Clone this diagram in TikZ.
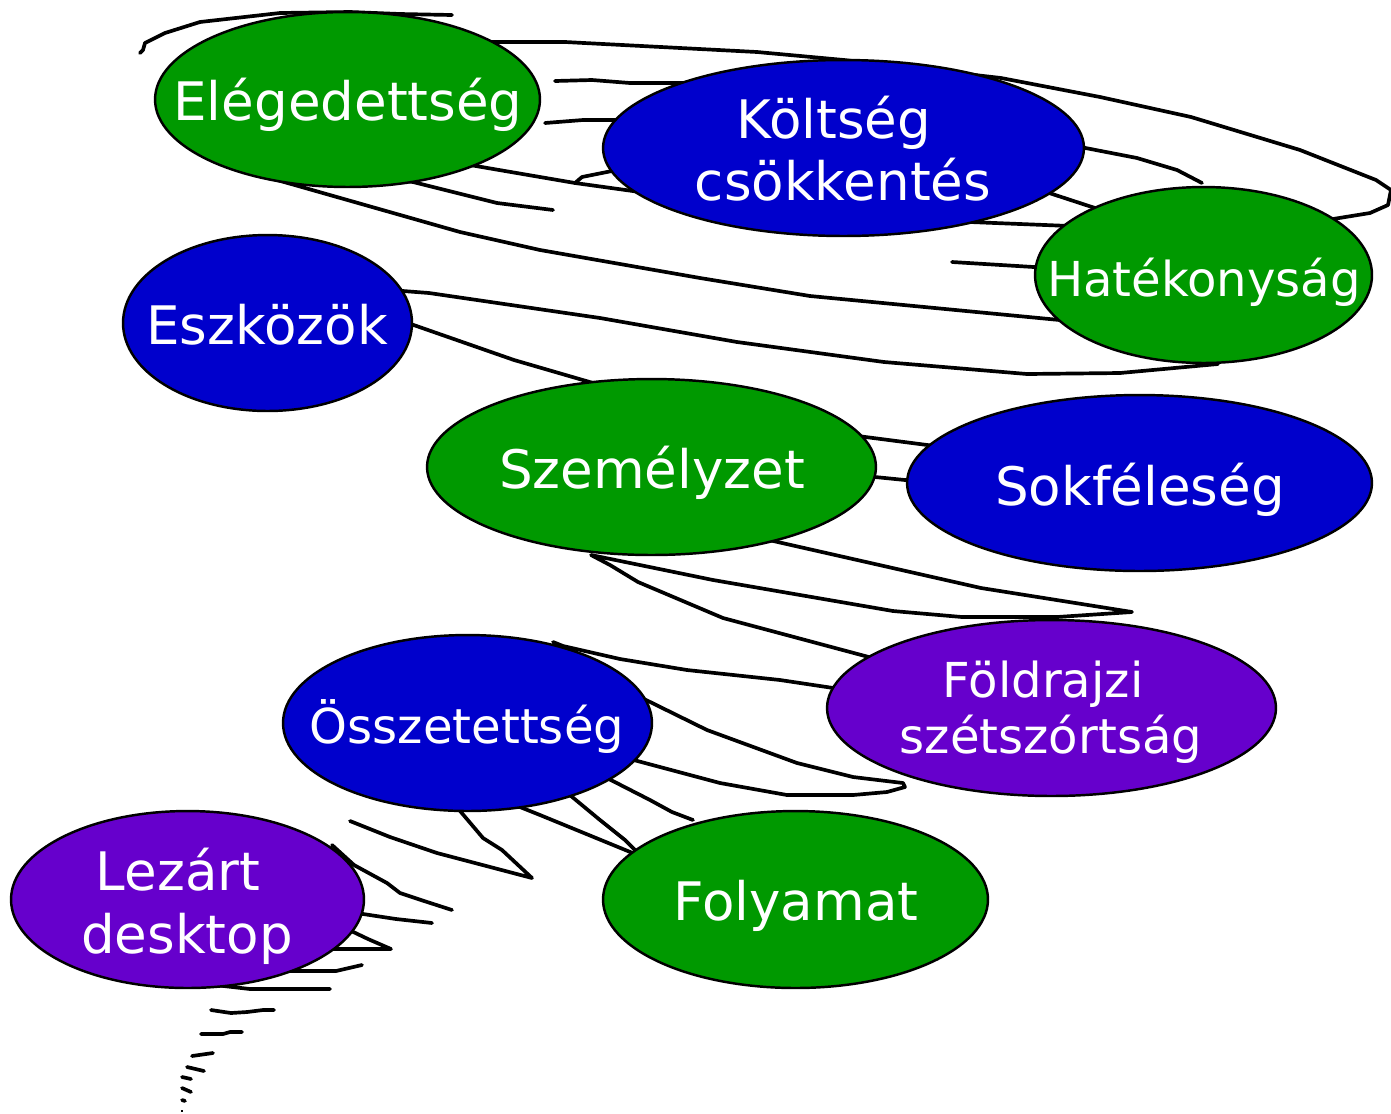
\documentclass[tikz,border=0pt]{standalone}
\usepackage{fontspec}
\setmainfont{DejaVu Sans}
\usetikzlibrary{shapes.geometric}
\definecolor{gr}{HTML}{009900}
\definecolor{bl}{HTML}{0000CC}
\definecolor{pu}{HTML}{6600CC}
\begin{document}
\begin{tikzpicture}[x=0.02cm,y=-0.02cm,
  scrib/.style={line width=2.1pt, line join=round, line cap=round},
  blob/.style={ellipse, draw=black, line width=1.4pt, inner sep=0pt},
  lbl/.style={text=white, anchor=base, inner sep=0pt, font=\fontsize{30.2}{36}\selectfont},
  lbls/.style={lbl, font=\fontsize{27.4}{33}\selectfont}]
\useasboundingbox (0,0) rectangle (1391,1113);
% ---- scribbled lines (behind the ellipses)
\draw[scrib] (452,15) -- (400,14) -- (350,12) -- (280,13) -- (200,22) -- (165,33) -- (145,43) -- (143,50) -- (140,53);
\draw[scrib] (480,42) -- (565,42) -- (757,52) -- (844,60) -- (1001,78) -- (1100,97) -- (1191,117) -- (1300,150) -- (1376,180) -- (1391,190) -- (1388,205) -- (1370,213) -- (1333,219) -- (1310,222);
\draw[scrib] (555,81) -- (592,80) -- (630,83) -- (700,83);
\draw[scrib] (545,123) -- (583,120) -- (630,120);
\draw[scrib] (470,165) -- (575,183) -- (640,192) -- (800,212) -- (970,222) -- (1070,226);
\draw[scrib] (575,183) -- (582,177) -- (612,171) -- (640,168);
\draw[scrib] (400,180) -- (413,182) -- (497,203) -- (553,210);
\draw[scrib] (270,178) -- (460,232) -- (540,250) -- (700,278) -- (810,296) -- (1070,321);
\draw[scrib] (952,262) -- (1050,268);
\draw[scrib] (1070,145) -- (1137,158) -- (1177,170) -- (1202,183);
\draw[scrib] (1040,190) -- (1095,208) -- (1110,214);
\draw[scrib] (390,290) -- (429,293) -- (600,318) -- (737,342) -- (884,362) -- (1027,374) -- (1120,373) -- (1218,364);
\draw[scrib] (405,322) -- (514,360) -- (600,385);
\draw[scrib] (850,435) -- (935,446);
\draw[scrib] (865,476) -- (915,481);
\draw[scrib] (760,538) -- (981,588) -- (1132,612) -- (1057,617) -- (962,617) -- (893,611) -- (713,580) -- (591,555) -- (610,565) -- (638,582) -- (723,618) -- (880,660);
\draw[scrib] (553,642) -- (563,646) -- (620,659) -- (687,670) -- (780,680) -- (840,689);
\draw[scrib] (640,697) -- (707,730) -- (797,763) -- (853,777) -- (903,783) -- (905,787) -- (887,792) -- (853,795) -- (787,795) -- (720,783) -- (630,759);
\draw[scrib] (605,777) -- (650,800) -- (672,812) -- (693,820);
\draw[scrib] (565,791) -- (600,820) -- (625,840) -- (640,855);
\draw[scrib] (515,805) -- (540,815) -- (640,856);
\draw[scrib] (455,805) -- (483,838) -- (502,850) -- (532,878) -- (437,853) -- (390,837) -- (350,821);
\draw[scrib] (332,845) -- (354,865) -- (387,883) -- (400,893) -- (421,900) -- (452,910);
\draw[scrib] (350,912) -- (396,919) -- (432,923);
\draw[scrib] (345,928) -- (368,939) -- (391,949) -- (330,949);
\draw[scrib] (362,965) -- (336,971) -- (290,971);
\draw[scrib] (330,989) -- (250,989) -- (215,985);
\draw[scrib] (211,1010) -- (231,1013) -- (247,1012) -- (263,1010) -- (274,1010);
\draw[scrib] (201,1034) -- (223,1034) -- (230,1032) -- (242,1032);
\draw[scrib] (192,1056) -- (213,1053);
\draw[scrib] (187,1067) -- (204,1071);
\draw[scrib] (182,1077) -- (191,1079);
\draw[scrib] (182,1088) -- (191,1092);
\draw[scrib] (182,1100) -- (185,1101);
\draw[line width=0.6pt] (182,1110) -- (182,1112);
% ---- ellipses
\node[blob, fill=gr, minimum width=7.70cm, minimum height=3.50cm] (eleg) at (347.5,99.5) {};
\node[blob, fill=bl, minimum width=9.62cm, minimum height=3.52cm] (kolt) at (843.5,148) {};
\node[blob, fill=gr, minimum width=6.74cm, minimum height=3.52cm] (hate) at (1203.5,275) {};
\node[blob, fill=bl, minimum width=5.78cm, minimum height=3.52cm] (eszk) at (267.5,323) {};
\node[blob, fill=gr, minimum width=8.98cm, minimum height=3.52cm] (szem) at (651.5,467) {};
\node[blob, fill=bl, minimum width=9.30cm, minimum height=3.52cm] (sokf) at (1139.5,483) {};
\node[blob, fill=pu, minimum width=8.98cm, minimum height=3.52cm] (fold) at (1051.5,708) {};
\node[blob, fill=bl, minimum width=7.38cm, minimum height=3.52cm] (ossz) at (467.5,723) {};
\node[blob, fill=pu, minimum width=7.06cm, minimum height=3.54cm] (leza) at (187.5,899.5) {};
\node[blob, fill=gr, minimum width=7.70cm, minimum height=3.54cm] (foly) at (795.5,899.5) {};
% ---- labels
\node[lbl] (t1) at (348,120) {Elégedettség};
\node[lbl] (t2a) at (834,138) {Költség};
\node[lbl] (t2b) at (843,200) {csökkentés};
\node[lbls] (t3) at (1204,296) {Hatékonyság};
\node[lbl] (t4) at (267,344) {Eszközök};
\node[lbl] (t5) at (652,488) {Személyzet};
\node[lbl] (t6) at (1140,505) {Sokféleség};
\node[lbls] (t7a) at (1043,697) {Földrajzi};
\node[lbls] (t7b) at (1051,753) {szétszórtság};
\node[lbls] (t8) at (467,743) {Összetettség};
\node[lbl] (t9a) at (178,890) {Lezárt};
\node[lbl] (t9b) at (187,953) {desktop};
\node[lbl] (t10) at (796,920) {Folyamat};
\end{tikzpicture}
\end{document}
